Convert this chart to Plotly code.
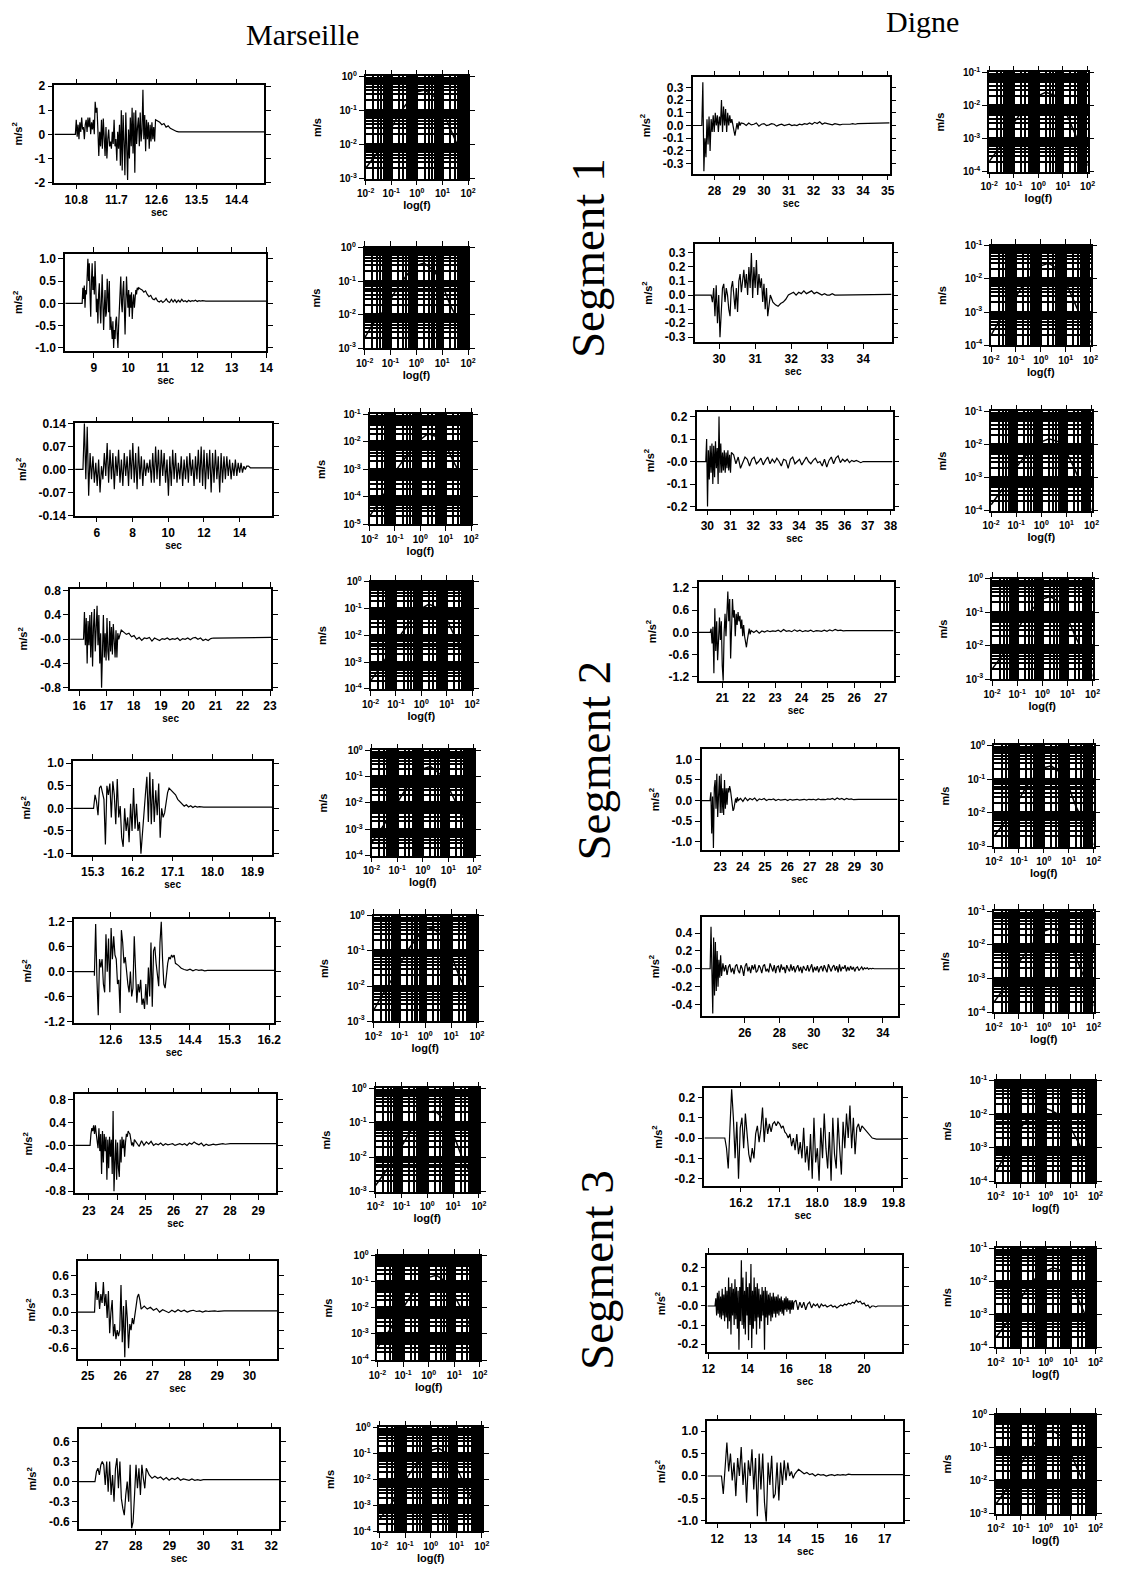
import numpy as np
import plotly.graph_objects as go

W, H = 1127, 1585
OFFX, OFFY = 8, 13  # page body margin compensation (px)

# ======================= DATA =======================
# Each time series: (onset, burst_end, coda_end), burst values, coda values, final level (m/s^2)

# ---------- Marseille ----------
M1_TIMES = (10.78, 12.58, 13.1)
M1_BURST = [0.0, 0.6, -0.1, 0.4, -0.2, 0.5, 0.1, 0.7, 0.2, 0.3,
            -0.2, 0.4, 0.6, 0.1, 0.7, 0.3, 0.7, 0.0, 0.5, 0.2,
            0.6, 0.0, 1.35, 0.9, 1.1, 0.2, -0.9, 0.1, -0.5, 0.6,
            -0.6, 0.65, -0.4, -0.9, 0.3, -1.0, -0.2, 0.2, -0.5, -0.3,
            -0.6, 0.1, -0.4, 0.6, -0.5, -0.2, -1.1, 0.1, -0.6, 0.4,
            -1.3, 1.0, -1.5, 0.8, -0.3, -1.7, 0.9, -1.2, -1.9, 0.2,
            -1.0, 0.7, -0.5, 1.1, -0.8, 0.9, -1.6, 1.0, -0.4, 0.3,
            0.7, -0.5, 0.9, -0.3, 0.2, 1.85, -0.2, 0.8, -0.7, 0.6,
            -0.2, 0.5, -0.6, 0.4, -0.3, 0.5, -0.2, 0.3, -0.3, 0.6]
M1_CODA = [0.55, 0.5, 0.4, 0.45, 0.3, 0.35, 0.25, 0.2, 0.15, 0.12, 0.1]
M1_TAIL = 0.1
M1_XLABELS = ["10.8", "11.7", "12.6", "13.5", "14.4"]
M1_YLABELS = ["2", "1", "0", "-1", "-2"]

M2_TIMES = (8.66, 10.3, 12.3)
M2_BURST = [0.0, 0.35, 0.1, 0.4, -0.1, 0.3,
            0.2, 0.6, 1.0, 0.5, 0.9, 0.2, -0.3, 0.5, 0.9, 0.3,
            0.6, 0.2, 0.95, 0.4, -0.2, 0.1, -0.45, 0.2, 0.45, -0.1,
            -0.45, 0.1, 0.65, 0.0, -0.6, -0.1, 0.3, -0.3, -0.2, 0.55,
            0.1, -0.2, 0.5, -0.6, -0.3, -0.5, -0.8, -0.4, -1.0, -0.6,
            -0.8, -0.4, -0.3, -0.7, -1.0, -0.5, -0.2, 0.1, 0.6, 0.0,
            -0.2, 0.3, 0.5, -0.1, -0.7, 0.0, 0.6, 0.2, -0.1, 0.3,
            -0.3, 0.2, -0.1, 0.25, -0.35, 0.0, 0.2, -0.1, 0.1, 0.3,
            0.2, 0.35, 0.3, 0.35]
M2_CODA = [0.32, 0.3, 0.25, 0.28, 0.2, 0.15, 0.18, 0.1, 0.08, 0.12,
           0.05, 0.03, 0.06, 0.02, 0.05, 0.1, 0.04, 0.02, 0.09, 0.03,
           0.08, 0.02, 0.07, 0.03, 0.09, 0.04, 0.06, 0.03, 0.07, 0.04,
           0.06, 0.05, 0.07, 0.04, 0.06, 0.05, 0.06, 0.05, 0.05, 0.05]
M2_TAIL = 0.05
M2_XLABELS = ["9", "10", "11", "12", "13", "14"]
M2_YLABELS = ["1.0", "0.5", "0.0", "-0.5", "-1.0"]

M3_TIMES = (5.22, 14.4, 14.7)
M3_BURST = [0.0, 0.14, -0.03, 0.13, -0.08, 0.05, -0.03, 0.04, -0.04, 0.02,
            -0.05, 0.03, -0.07, 0.01, -0.03, 0.05, -0.02, 0.08, -0.04, 0.06,
            -0.03, 0.05, -0.06, 0.04, -0.02, 0.06, -0.04, 0.03, -0.05, 0.05,
            -0.02, 0.04, -0.05, 0.06, -0.03, 0.08, -0.04, 0.05, -0.06, 0.07,
            -0.03, 0.04, -0.05, 0.03, -0.02, 0.02, -0.01, 0.03, -0.04, 0.05,
            -0.04, 0.07, -0.03, 0.06, -0.05, 0.06, -0.02, 0.05, -0.04, 0.03,
            -0.08, 0.04, -0.05, 0.06, -0.03, 0.05, -0.04, 0.02, -0.03, 0.04,
            -0.05, 0.03, -0.03, 0.04, -0.04, 0.05, -0.02, 0.03, -0.05, 0.04,
            -0.03, 0.06, -0.04, 0.07, -0.05, 0.06, -0.06, 0.05, -0.03, 0.06,
            -0.07, 0.05, -0.04, 0.06, -0.03, 0.04, -0.07, 0.05, -0.04, 0.04,
            -0.03, 0.04, -0.02, 0.03, -0.03, 0.02, -0.02, 0.03, -0.02, 0.02,
            -0.01, 0.02, -0.01, 0.01, 0.0, 0.01]
M3_CODA = [0.01, 0.005, 0.005]
M3_TAIL = 0.005
M3_XLABELS = ["6", "8", "10", "12", "14"]
M3_YLABELS = ["0.14", "0.07", "0.00", "-0.07", "-0.14"]

M4_TIMES = (16.16, 17.45, 21.2)
M4_BURST = [0.0, 0.45, -0.1, 0.35, -0.4, 0.3, -0.1, 0.4, -0.3, 0.45,
            -0.45, 0.2, 0.5, -0.2, 0.3, 0.55, -0.1, 0.4, -0.4, 0.1,
            -0.8, 0.2, 0.4, -0.3, 0.1, -0.35, 0.35, -0.2, -0.35, 0.3,
            -0.2, 0.2, -0.25, 0.25, -0.1, -0.3, 0.15, -0.3, 0.1, 0.0]
M4_CODA = [0.15, 0.12, 0.08, 0.1, 0.04, 0.06, 0.0, 0.03, -0.02, 0.02,
           0.01, 0.03, -0.03, 0.02, 0.0, -0.02, 0.01, 0.0, 0.02, -0.01,
           0.01, 0.0, 0.02, -0.02, 0.01, 0.0, 0.02, -0.01, 0.02, 0.03,
           0.0, 0.02, -0.02, 0.0, -0.02, 0.01, 0.02, 0.02, 0.03, 0.03]
M4_TAIL = 0.03
M4_XLABELS = ["16", "17", "18", "19", "20", "21", "22", "23"]
M4_YLABELS = ["0.8", "0.4", "-0.0", "-0.4", "-0.8"]

M5_TIMES = (15.32, 17.02, 17.8)
M5_BURST = [0.0, 0.3, 0.15, -0.15, 0.45, 0.5, 0.3, 0.2, -0.8, 0.5,
            0.3, 0.55, -0.2, 0.6, 0.3, -0.35, 0.65, -0.2, 0.05, -0.65,
            -0.85, 0.0, -0.5, -0.2, -0.75, 0.1, -0.5, 0.45, -0.45, 0.1,
            -0.5, -0.3, -1.0, -0.5, -0.1, 0.3, 0.7, -0.3, 0.8, -0.35,
            0.65, -0.3, 0.4, -0.15, 0.55, -0.65, 0.0, -0.2, -0.1, 0.2,
            0.35, 0.45]
M5_CODA = [0.4, 0.35, 0.3, 0.2, 0.15, 0.1, 0.05, 0.08, 0.03, 0.06,
           0.02, 0.05, 0.03, 0.04, 0.03, 0.03]
M5_TAIL = 0.03
M5_XLABELS = ["15.3", "16.2", "17.1", "18.0", "18.9"]
M5_YLABELS = ["1.0", "0.5", "0.0", "-0.5", "-1.0"]

M6_TIMES = (12.23, 14.07, 14.8)
M6_BURST = [-0.1, 1.15, -0.2, -1.05, 0.3, 0.1, 0.3, -0.3, -0.5, 0.9,
            0.0, 0.8, -0.5, 1.05, 0.3, 0.85, 0.4, 0.3, -0.3, -0.2,
            -1.0, 1.0, 0.7, 0.2, 0.35, -0.1, -0.3, -0.5, 0.0, -0.6,
            -0.4, 0.85, -0.2, -0.75, -0.3, -0.5, -0.2, -0.8, -0.65, -0.9,
            -0.3, -0.8, 0.1, -0.6, 0.7, -0.85, 0.5, 0.6, 0.2, -0.1,
            -0.35, 0.7, 1.2, 0.3, -0.3, -0.4, 0.0, 0.2, 0.35, 0.3,
            0.4, 0.35, 0.4, 0.2]
M6_CODA = [0.15, 0.08, 0.05, 0.03, 0.06, 0.02, 0.05, 0.03, 0.04, 0.02, 0.03]
M6_TAIL = 0.03
M6_XLABELS = ["12.6", "13.5", "14.4", "15.3", "16.2"]
M6_YLABELS = ["1.2", "0.6", "0.0", "-0.6", "-1.2"]

M7_TIMES = (23.04, 24.61, 28.0)
M7_BURST = [0.0, 0.2, 0.3, 0.25, 0.35, 0.2, 0.35, 0.2, 0.1, -0.05,
            0.3, -0.1, 0.2, -0.5, 0.25, -0.3, 0.2, -0.1, 0.15, -0.6,
            0.1, -0.4, 0.15, -0.2, 0.1, -0.5, 0.6, -0.8, -0.3, 0.1,
            -0.6, 0.05, -0.4, -0.55, 0.1, -0.3, 0.15, -0.05, 0.1, -0.2,
            0.05, 0.2, 0.15, 0.25, 0.22, 0.2, 0.1, 0.0, 0.05, -0.02,
            0.1]
M7_CODA = [0.05, -0.02, 0.08, 0.0, 0.06, 0.02, 0.07, 0.0, 0.03, 0.01,
           0.04, 0.0, 0.03, 0.01, 0.02, 0.03, 0.0, 0.02, 0.03, 0.01,
           0.03, 0.0, 0.04, 0.02, 0.06, 0.03, 0.01, 0.04, -0.01, 0.02,
           0.0, 0.01, 0.02, 0.01, 0.02, 0.02, 0.03, 0.02, 0.03, 0.03]
M7_TAIL = 0.03
M7_XLABELS = ["23", "24", "25", "26", "27", "28", "29"]
M7_YLABELS = ["0.8", "0.4", "-0.0", "-0.4", "-0.8"]

M8_TIMES = (25.21, 26.65, 29.5)
M8_BURST = [0.0, 0.5, 0.2, 0.35, 0.05, 0.3, 0.15, 0.5, 0.1, 0.3,
            -0.1, 0.35, -0.35, 0.0, 0.2, -0.4, -0.2, -0.45, -0.3, -0.4,
            -0.3, 0.45, -0.5, 0.1, -0.75, 0.2, -0.1, -0.6, -0.2, -0.3,
            -0.1, -0.2, 0.0, 0.1, 0.25, 0.3, 0.2, 0.05]
M8_CODA = [0.1, 0.05, 0.08, 0.03, 0.06, 0.0, 0.04, 0.02, -0.01, 0.03,
           0.0, 0.04, 0.01, 0.03, 0.0, 0.02, 0.03, 0.01, 0.02, 0.0,
           0.02, 0.01, 0.02, 0.02, 0.01, 0.02, 0.02, 0.02, 0.02, 0.02]
M8_TAIL = 0.02
M8_XLABELS = ["25", "26", "27", "28", "29", "30"]
M8_YLABELS = ["0.6", "0.3", "0.0", "-0.3", "-0.6"]

M9_TIMES = (26.8, 28.4, 30.5)
M9_BURST = [0.0, 0.15, 0.2, 0.1, 0.25, 0.3, 0.25, -0.05, 0.3, -0.15,
            0.3, -0.2, 0.1, -0.3, 0.2, 0.35, -0.1, 0.3, -0.25, -0.4,
            -0.5, -0.2, 0.0, -0.3, 0.25, -0.7, -0.6, -0.2, 0.25, -0.1,
            0.2, -0.2, 0.25, 0.05, -0.1, 0.2, 0.15, 0.1]
M9_CODA = [0.05, 0.08, 0.05, 0.07, 0.03, 0.06, 0.02, 0.05, 0.03, 0.06,
           0.02, 0.04, 0.03, 0.02, 0.04, 0.02, 0.03, 0.02, 0.03, 0.03,
           0.02, 0.03, 0.03, 0.03, 0.03]
M9_TAIL = 0.03
M9_XLABELS = ["27", "28", "29", "30", "31", "32"]
M9_YLABELS = ["0.6", "0.3", "0.0", "-0.3", "-0.6"]

# ---------- Digne ----------
D1_TIMES = (27.49, 29.08, 34.2)
D1_BURST = [0.0, 0.34, -0.36, -0.1, -0.25, 0.05, -0.15, 0.07, -0.2, 0.05,
            -0.05, 0.08, -0.05, 0.1, 0.0, 0.08, -0.05, 0.07, 0.0, 0.2,
            -0.05, 0.15, 0.0, 0.13, -0.05, 0.1, 0.0, 0.08, 0.02, 0.05,
            -0.02, -0.04, -0.08, -0.02, 0.02, -0.03, 0.03, 0.0, 0.02]
D1_CODA = [0.015, 0.0, 0.02, 0.005, 0.01, 0.02, -0.005, 0.01, 0.015, 0.0,
           0.005, 0.015, 0.01, -0.005, 0.005, 0.01, 0.0, 0.005, 0.01, 0.0,
           0.005, 0.0, 0.01, 0.005, 0.015, 0.01, 0.02, 0.01, 0.025, 0.015,
           0.03, 0.01, 0.02, 0.015, 0.01, 0.005, 0.015, 0.01, 0.005, 0.01,
           0.01, 0.005, 0.01, 0.015, 0.01, 0.015, 0.015, 0.02, 0.015, 0.02]
D1_TAIL = 0.02
D1_XLABELS = ["28", "29", "30", "31", "32", "33", "34", "35"]
D1_YLABELS = ["0.3", "0.2", "0.1", "0.0", "-0.1", "-0.2", "-0.3"]

D2_TIMES = (29.78, 31.35, 33.5)
D2_BURST = [0.0, -0.05, 0.05, -0.15, 0.07, -0.2, 0.0, -0.3, -0.1, 0.05,
            0.08, -0.05, 0.05, 0.0, -0.1, -0.15, 0.05, 0.1, 0.0, -0.1,
            0.05, -0.12, 0.1, 0.15, 0.02, 0.1, 0.18, 0.05, 0.15, 0.0,
            0.2, 0.05, 0.3, -0.02, 0.2, 0.05, 0.25, 0.0, 0.15, 0.05,
            0.12, -0.05, 0.08, -0.1, 0.05, -0.15]
D2_CODA = [0.0, -0.05, -0.07, -0.08, -0.06, -0.05, -0.03, 0.0, 0.01, 0.02,
           0.0, 0.02, 0.01, 0.03, 0.01, 0.02, 0.03, 0.01, 0.02, 0.01,
           0.0, 0.01, 0.0, 0.0, 0.01, 0.0, 0.0, 0.0, 0.005, 0.005]
D2_TAIL = 0.005
D2_XLABELS = ["30", "31", "32", "33", "34"]
D2_YLABELS = ["0.3", "0.2", "0.1", "0.0", "-0.1", "-0.2", "-0.3"]

D3_TIMES = (29.93, 31.05, 37.0)
D3_BURST = [0.0, 0.1, -0.2, 0.05, -0.08, 0.07, -0.05, 0.08, -0.1, 0.07,
            -0.07, 0.09, -0.03, 0.06, -0.1, 0.2, -0.05, 0.08, -0.05, 0.04,
            -0.04, 0.05, -0.05, 0.04, -0.03, 0.05, -0.04, 0.03, -0.05, 0.04]
D3_CODA = [0.03, -0.01, 0.02, -0.03, 0.0, 0.02, 0.01, -0.02, 0.01, 0.02,
           -0.01, 0.0, 0.015, -0.015, 0.005, 0.02, -0.01, 0.01, -0.005, 0.015,
           0.0, -0.02, 0.01, 0.005, -0.03, 0.01, 0.02, -0.01, 0.0, 0.01,
           -0.015, 0.005, 0.02, 0.0, -0.01, 0.005, 0.015, -0.005, 0.0, -0.02,
           0.01, -0.025, 0.005, 0.02, -0.01, 0.015, 0.025, -0.005, 0.01, 0.0,
           0.01, -0.005, 0.005, 0.0, 0.005, 0.0, -0.005, 0.0, 0.0, 0.0]
D3_TAIL = 0.0
D3_XLABELS = ["30", "31", "32", "33", "34", "35", "36", "37", "38"]
D3_YLABELS = ["0.2", "0.1", "-0.0", "-0.1", "-0.2"]

D4_TIMES = (20.54, 22.09, 26.2)
D4_BURST = [0.0, 0.1, -0.3, 0.15, -1.1, 0.65, -0.5, 0.3, -0.75, -0.2,
            0.4, -0.2, 0.3, -0.9, -1.3, 0.0, 0.5, -0.1, 0.7, 1.1,
            0.3, 0.9, -0.7, 0.2, 0.9, 0.4, 0.6, -0.1, 0.5, 0.2,
            0.55, 0.3, 0.45, 0.1, 0.35, -0.1, 0.2, -0.1, -0.3, -0.4,
            -0.2, 0.0, 0.1, -0.05, 0.05]
D4_CODA = [0.0, 0.05, -0.02, 0.04, 0.01, 0.05, 0.02, 0.04, 0.03, 0.06,
           0.02, 0.08, 0.03, 0.05, 0.02, 0.07, 0.03, 0.06, 0.02, 0.05,
           0.03, 0.06, 0.02, 0.05, 0.04, 0.03, 0.06, 0.03, 0.07, 0.04,
           0.08, 0.05, 0.06, 0.04, 0.05, 0.04, 0.05, 0.05, 0.05, 0.05]
D4_TAIL = 0.05
D4_XLABELS = ["21", "22", "23", "24", "25", "26", "27"]
D4_YLABELS = ["1.2", "0.6", "0.0", "-0.6", "-1.2"]

D5_TIMES = (22.54, 23.8, 29.6)
D5_BURST = [0.0, 0.2, -0.8, 0.1, -1.15, 0.3, 0.5, -0.2, 0.65, -0.4,
            0.2, 0.6, -0.3, 0.65, -0.3, 0.3, -0.35, 0.5, -0.2, 0.3,
            -0.1, 0.3, 0.2, 0.35, 0.25, 0.1, -0.1, -0.25, -0.2, -0.1,
            0.05, -0.05, 0.08, 0.0]
D5_CODA = [0.05, -0.02, 0.07, 0.0, 0.05, 0.02, 0.06, -0.01, 0.04, 0.02,
           0.05, 0.0, 0.03, 0.02, 0.04, 0.0, 0.03, 0.01, 0.02, 0.03,
           0.0, 0.03, 0.01, 0.02, 0.03, 0.01, 0.02, 0.03, 0.01, 0.03,
           0.02, 0.03, 0.01, 0.04, 0.02, 0.03, 0.02, 0.04, 0.03, 0.05,
           0.02, 0.06, 0.03, 0.05, 0.02, 0.05, 0.03, 0.04, 0.02, 0.03,
           0.03, 0.03, 0.03, 0.03, 0.03]
D5_TAIL = 0.03
D5_XLABELS = ["23", "24", "25", "26", "27", "28", "29", "30"]
D5_YLABELS = ["1.0", "0.5", "0.0", "-0.5", "-1.0"]

D6_TIMES = (23.99, 24.65, 33.5)
D6_BURST = [0.0, 0.47, -0.1, -0.5, 0.35, -0.3, 0.3, -0.25, 0.2, -0.2,
            0.1, -0.1, 0.15, -0.08]
D6_CODA = [0.06, -0.03, 0.04, -0.07, 0.02, 0.05, -0.04, 0.01, -0.06, 0.03,
           0.05, -0.02, -0.05, 0.04, 0.0, -0.08, 0.03, 0.06, -0.03, 0.02,
           -0.05, 0.04, -0.01, 0.05, -0.04, -0.02, 0.04, 0.01, -0.05, 0.03,
           0.05, -0.03, 0.0, -0.04, 0.06, 0.01, -0.03, 0.04, -0.05, 0.02,
           0.03, -0.04, 0.05, -0.01, 0.02, -0.05, 0.04, 0.0, -0.03, 0.05,
           -0.02, 0.03, -0.04, 0.01, 0.04, -0.03, 0.02, -0.05, 0.03, 0.0,
           -0.02, 0.04, -0.03, 0.01, 0.05, -0.04, 0.02, -0.02, 0.03, -0.04,
           0.01, 0.03, -0.03, 0.04, -0.01, -0.04, 0.05, 0.0, -0.03, 0.02,
           0.04, -0.02, 0.03, -0.04, 0.05, -0.03, 0.02, 0.0, 0.04, -0.03,
           0.02, -0.02, 0.03, -0.01, 0.02, -0.03, 0.01, 0.02, -0.02, 0.0,
           0.02, -0.01, 0.01, 0.0, 0.01, -0.005, 0.005, 0.0, 0.005, 0.0]
D6_TAIL = 0.0
D6_XLABELS = ["26", "28", "30", "32", "34"]
D6_YLABELS = ["0.4", "0.2", "-0.0", "-0.2", "-0.4"]

D7_TIMES = (15.82, 19.3, 19.4)
D7_BURST = [0.0, -0.05, -0.15, 0.05, 0.24, 0.1, -0.1,
            0.08, -0.2, 0.05, 0.1, -0.05, 0.12, 0.02, -0.08, -0.12, -0.05,
            -0.1, 0.02, 0.06, -0.02, 0.04, 0.15, -0.02, 0.1, 0.02, 0.07,
            0.03, 0.07, 0.08, 0.06, 0.08, 0.07, 0.05, 0.06, 0.03, 0.02,
            0.0, 0.02, -0.04, 0.0, -0.06, 0.02, -0.08, -0.02, -0.1, 0.05,
            -0.12, -0.04, -0.16, 0.02, -0.2, 0.1, -0.12, -0.05, -0.21, 0.05,
            -0.1, 0.12, -0.05, -0.15, 0.03, -0.21, 0.1, -0.08, -0.15, 0.1,
            -0.05, -0.18, 0.08, -0.05, 0.12, 0.0, 0.16, -0.05, 0.1, -0.08,
            0.05, 0.07, 0.03, 0.06, 0.05, 0.04, 0.03, 0.02, 0.01, 0.0]
D7_CODA = [-0.005]
D7_TAIL = -0.005
D7_XLABELS = ["16.2", "17.1", "18.0", "18.9", "19.8"]
D7_YLABELS = ["0.2", "0.1", "-0.0", "-0.1", "-0.2"]

D8_TIMES = (12.34, 16.4, 20.8)
D8_BURST = [0.0, 0.04, -0.05, 0.07, -0.04, 0.08, -0.06, 0.05, -0.07, 0.09,
            -0.05, 0.06, -0.08, 0.1, -0.06, 0.08,
            -0.12, 0.15, -0.08, 0.1, -0.15, 0.12, -0.05, 0.09, -0.1, 0.14,
            -0.07, 0.1, -0.12, 0.08, -0.23,
            0.1, -0.08, 0.24, -0.1, 0.15, -0.12, 0.08, -0.15, 0.18, -0.05,
            0.1, -0.18, 0.12, -0.1, 0.22,
            -0.22, 0.08, -0.12, 0.15, -0.08, 0.1, -0.15, 0.12, -0.06, 0.09,
            -0.12, 0.06, -0.08, 0.1, -0.05,
            0.08, -0.23, 0.1, -0.06, 0.08, -0.1, 0.06, -0.05, 0.07, -0.08,
            0.05, -0.06, 0.07, -0.04, 0.05,
            -0.06, 0.05, -0.04, 0.06, -0.05, 0.04, -0.03, 0.05, -0.04, 0.03,
            -0.05, 0.04, -0.02, 0.05, -0.03, 0.04, -0.02, 0.03, -0.04, 0.03,
            -0.02, 0.03, -0.02, 0.02]
D8_CODA = [0.03, -0.02, 0.02, -0.01, 0.02, -0.02, 0.01, 0.02, -0.01, 0.01,
           0.0, 0.01, -0.01, 0.01, 0.0, 0.005, -0.005, 0.0, 0.005, -0.005,
           0.0, -0.01, 0.0, 0.005, 0.0, 0.01, 0.005, 0.015, 0.01, 0.02,
           0.015, 0.03, 0.02, 0.025, 0.01, 0.015, 0.0, 0.005, -0.01, 0.0,
           0.0, -0.005, 0.0, 0.0]
D8_TAIL = 0.0
D8_XLABELS = ["12", "14", "16", "18", "20"]
D8_YLABELS = ["0.2", "0.1", "-0.0", "-0.1", "-0.2"]

D9_TIMES = (12.13, 14.43, 16.5)
D9_BURST = [0.0, -0.4, 0.3, 0.75, 0.1, 0.5, -0.1, 0.3, -0.45, 0.4,
            0.0, 0.65, -0.2, 0.3, -0.6, 0.35, 0.0, 0.6, -0.3, 0.4,
            -0.9, 0.5, -0.3, 0.5, -0.6, -1.05, 0.3, -0.2, 0.45, -0.5,
            -0.4, 0.3, -0.55, 0.3, -0.2, 0.35, -0.1, 0.3, 0.0, 0.1,
            -0.05, 0.05, 0.1, 0.15]
D9_CODA = [0.1, 0.05, 0.08, 0.03, 0.05, 0.0, 0.04, 0.02, 0.03, 0.0,
           0.02, 0.03, 0.01, 0.03, 0.02, 0.03, 0.02, 0.04, 0.03, 0.03,
           0.02, 0.03, 0.03, 0.03, 0.03]
D9_TAIL = 0.03
D9_XLABELS = ["12", "13", "14", "15", "16", "17"]
D9_YLABELS = ["1.0", "0.5", "0.0", "-0.5", "-1.0"]

# ---------- Spectra (m/s) ----------
SPEC_F = [0.01, 0.02, 0.05, 0.1, 0.2, 0.5, 1, 2, 5, 10, 20, 50, 100]
M1_SPEC = [0.002, 0.004, 0.01, 0.03, 0.08, 0.2, 0.35, 0.4, 0.25, 0.1, 0.03, 0.006, 0.0015]
M2_SPEC = [0.002, 0.005, 0.012, 0.03, 0.07, 0.18, 0.3, 0.35, 0.2, 0.08, 0.02, 0.005, 0.0012]
M3_SPEC = [0.00002, 0.00005, 0.0002, 0.0008, 0.002, 0.006, 0.012, 0.02, 0.015, 0.008, 0.002, 0.0004, 0.00005]
M4_SPEC = [0.0002, 0.0005, 0.002, 0.006, 0.015, 0.05, 0.1, 0.15, 0.1, 0.04, 0.01, 0.002, 0.0003]
M5_SPEC = [0.0003, 0.0008, 0.003, 0.01, 0.03, 0.1, 0.2, 0.25, 0.12, 0.04, 0.01, 0.002, 0.0004]
M6_SPEC = [0.002, 0.005, 0.015, 0.04, 0.1, 0.25, 0.4, 0.45, 0.25, 0.08, 0.02, 0.005, 0.0015]
M7_SPEC = [0.0015, 0.003, 0.008, 0.02, 0.05, 0.12, 0.2, 0.22, 0.12, 0.05, 0.012, 0.003, 0.0012]
M8_SPEC = [0.0003, 0.0008, 0.003, 0.01, 0.03, 0.08, 0.15, 0.18, 0.1, 0.03, 0.008, 0.0015, 0.0003]
M9_SPEC = [0.0003, 0.0007, 0.0025, 0.009, 0.025, 0.07, 0.13, 0.16, 0.09, 0.03, 0.007, 0.0012, 0.0002]
D1_SPEC = [0.0002, 0.0004, 0.001, 0.003, 0.006, 0.012, 0.02, 0.025, 0.02, 0.01, 0.003, 0.0006, 0.00015]
D2_SPEC = [0.0002, 0.0005, 0.0012, 0.003, 0.007, 0.015, 0.025, 0.03, 0.02, 0.008, 0.0025, 0.0005, 0.00012]
D3_SPEC = [0.00015, 0.0003, 0.0008, 0.002, 0.004, 0.008, 0.012, 0.015, 0.012, 0.006, 0.002, 0.0004, 0.0001]
D4_SPEC = [0.002, 0.004, 0.01, 0.03, 0.07, 0.15, 0.25, 0.3, 0.2, 0.07, 0.02, 0.005, 0.0012]
D5_SPEC = [0.002, 0.004, 0.01, 0.025, 0.06, 0.14, 0.22, 0.25, 0.15, 0.06, 0.015, 0.004, 0.0011]
D6_SPEC = [0.0002, 0.0004, 0.001, 0.003, 0.006, 0.015, 0.025, 0.03, 0.025, 0.012, 0.004, 0.0008, 0.00015]
D7_SPEC = [0.0002, 0.0005, 0.0015, 0.004, 0.008, 0.012, 0.015, 0.012, 0.008, 0.004, 0.0015, 0.0004, 0.00012]
D8_SPEC = [0.0002, 0.0004, 0.001, 0.003, 0.007, 0.015, 0.02, 0.025, 0.02, 0.01, 0.003, 0.0006, 0.00015]
D9_SPEC = [0.002, 0.004, 0.012, 0.03, 0.08, 0.18, 0.3, 0.32, 0.2, 0.07, 0.02, 0.005, 0.0012]

# decade range (log10) of each spectrum's m/s axis
M_SPEC_DECADES = [(-3, 0), (-3, 0), (-5, -1), (-4, 0), (-4, 0), (-3, 0), (-3, 0), (-4, 0), (-4, 0)]
D_SPEC_DECADES = [(-4, -1), (-4, -1), (-4, -1), (-3, 0), (-3, 0), (-4, -1), (-4, -1), (-4, -1), (-3, 0)]

STATIONS = ["Marseille", "Digne"]
SEGMENTS = ["Segment 1", "Segment 2", "Segment 3"]

# ======================= LAYOUT (pixels) =======================
M_TS = [
    ((46, 84, 259, 182), (10.31, 15.02), (-2.0, 2.03)),
    ((57, 254, 261, 352), (8.17, 14.0), (-1.07, 1.11)),
    ((67, 425, 267, 518), (4.78, 15.82), (-0.14, 0.14)),
    ((62, 592, 266, 693), (15.67, 23.04), (-0.82, 0.83)),
    ((65, 766, 267, 860), (14.86, 19.34), (-1.02, 1.04)),
    ((66, 925, 269, 1030), (11.77, 16.31), (-1.24, 1.27)),
    ((67, 1102, 271, 1202), (22.51, 29.63), (-0.84, 0.89)),
    ((70, 1270, 272, 1369), (24.7, 30.85), (-0.78, 0.85)),
    ((71, 1440, 274, 1540), (26.33, 32.23), (-0.70, 0.78)),
]
D_TS = [
    ((694, 76, 894, 173), (27.12, 35.08), (-0.378, 0.378)),
    ((696, 244, 896, 343), (29.32, 34.79), (-0.335, 0.364)),
    ((698, 414, 897, 511), (29.53, 38.09), (-0.209, 0.218)),
    ((700, 585, 898, 685), (20.1, 27.49), (-1.31, 1.36)),
    ((703, 754, 902, 855), (22.16, 30.93), (-1.19, 1.24)),
    ((703, 923, 903, 1023), (23.49, 34.91), (-0.53, 0.58)),
    ((706, 1096, 906, 1194), (15.34, 19.99), (-0.234, 0.244)),
    ((709, 1264, 907, 1362), (11.95, 21.97), (-0.242, 0.268)),
    ((709, 1432, 908, 1533), (11.71, 17.56), (-1.02, 1.22)),
]
M_SP_BOX = [(362, 75, 466, 178), (361, 248, 466, 349), (366, 416, 469, 527),
            (367, 585, 470, 693), (368, 755, 472, 861), (370, 922, 475, 1028),
            (372, 1096, 477, 1200), (374, 1265, 478, 1370), (376, 1438, 480, 1543)]
D_SP_BOX = [(995, 71, 1095, 171), (997, 246, 1098, 346), (997, 413, 1099, 513),
            (998, 582, 1100, 683), (1000, 750, 1101, 852), (1000, 917, 1101, 1019),
            (1002, 1088, 1103, 1190), (1002, 1257, 1103, 1357), (1002, 1425, 1103, 1525)]

M_DATA = [
    (M1_TIMES, M1_BURST, M1_CODA, M1_TAIL, M1_XLABELS, M1_YLABELS, M1_SPEC),
    (M2_TIMES, M2_BURST, M2_CODA, M2_TAIL, M2_XLABELS, M2_YLABELS, M2_SPEC),
    (M3_TIMES, M3_BURST, M3_CODA, M3_TAIL, M3_XLABELS, M3_YLABELS, M3_SPEC),
    (M4_TIMES, M4_BURST, M4_CODA, M4_TAIL, M4_XLABELS, M4_YLABELS, M4_SPEC),
    (M5_TIMES, M5_BURST, M5_CODA, M5_TAIL, M5_XLABELS, M5_YLABELS, M5_SPEC),
    (M6_TIMES, M6_BURST, M6_CODA, M6_TAIL, M6_XLABELS, M6_YLABELS, M6_SPEC),
    (M7_TIMES, M7_BURST, M7_CODA, M7_TAIL, M7_XLABELS, M7_YLABELS, M7_SPEC),
    (M8_TIMES, M8_BURST, M8_CODA, M8_TAIL, M8_XLABELS, M8_YLABELS, M8_SPEC),
    (M9_TIMES, M9_BURST, M9_CODA, M9_TAIL, M9_XLABELS, M9_YLABELS, M9_SPEC),
]
D_DATA = [
    (D1_TIMES, D1_BURST, D1_CODA, D1_TAIL, D1_XLABELS, D1_YLABELS, D1_SPEC),
    (D2_TIMES, D2_BURST, D2_CODA, D2_TAIL, D2_XLABELS, D2_YLABELS, D2_SPEC),
    (D3_TIMES, D3_BURST, D3_CODA, D3_TAIL, D3_XLABELS, D3_YLABELS, D3_SPEC),
    (D4_TIMES, D4_BURST, D4_CODA, D4_TAIL, D4_XLABELS, D4_YLABELS, D4_SPEC),
    (D5_TIMES, D5_BURST, D5_CODA, D5_TAIL, D5_XLABELS, D5_YLABELS, D5_SPEC),
    (D6_TIMES, D6_BURST, D6_CODA, D6_TAIL, D6_XLABELS, D6_YLABELS, D6_SPEC),
    (D7_TIMES, D7_BURST, D7_CODA, D7_TAIL, D7_XLABELS, D7_YLABELS, D7_SPEC),
    (D8_TIMES, D8_BURST, D8_CODA, D8_TAIL, D8_XLABELS, D8_YLABELS, D8_SPEC),
    (D9_TIMES, D9_BURST, D9_CODA, D9_TAIL, D9_XLABELS, D9_YLABELS, D9_SPEC),
]

# ======================= STYLE =======================
SANS = "Liberation Sans"
TICKFONT = dict(family=SANS, size=12, color="black", weight="bold")
SPTICKFONT = dict(family=SANS, size=10, color="black", weight="bold")
TITLEFONT = dict(family=SANS, size=11, color="black", weight="bold")
XTITLEFONT = dict(family=SANS, size=10, color="black", weight="bold")


def dom(box):
    l, t, r, b = box
    l, r = l - OFFX, r - OFFX
    t, b = t - OFFY, b - OFFY
    return [l / W, r / W], [1 - b / H, 1 - t / H]


fig = go.Figure()
layout = {}
k = [0]


def axname(n):
    return ("xaxis", "yaxis", "x", "y") if n == 1 else (f"xaxis{n}", f"yaxis{n}", f"x{n}", f"y{n}")


def add_ts(box, xr, yr, times, burst, coda, tail, xlabels, ylabels):
    k[0] += 1
    xa, ya, xr_id, yr_id = axname(k[0])
    onset, bend, cend = times
    bx = list(np.linspace(onset, bend, len(burst)))
    cx = list(np.linspace(bend, cend, len(coda) + 1)[1:])
    x = [xr[0], onset] + bx + cx + [xr[1]]
    y = [0.0, 0.0] + list(burst) + list(coda) + [tail]
    fig.add_trace(go.Scatter(x=x, y=y, mode="lines", xaxis=xr_id, yaxis=yr_id,
                             line=dict(color="black", width=1.2), hoverinfo="skip"))
    dx, dy = dom(box)
    common = dict(showline=True, linewidth=1.7, linecolor="black", mirror="ticks",
                  ticks="outside", ticklen=5, tickwidth=1.4, tickcolor="black",
                  showgrid=False, zeroline=False, tickmode="array")
    layout[xa] = dict(domain=dx, range=list(xr), anchor=yr_id,
                      tickvals=[float(s) for s in xlabels], ticktext=xlabels,
                      tickfont=TICKFONT,
                      title=dict(text="sec", font=XTITLEFONT, standoff=3), **common)
    layout[ya] = dict(domain=dy, range=list(yr), anchor=xr_id,
                      tickvals=[float(s) for s in ylabels], ticktext=ylabels,
                      tickfont=TICKFONT,
                      title=dict(text="m/s<sup>2</sup>", font=TITLEFONT, standoff=10), **common)


def add_spec(box, dec, spec):
    k[0] += 1
    xa, ya, xr_id, yr_id = axname(k[0])
    fig.add_trace(go.Scatter(x=SPEC_F, y=spec, mode="lines", xaxis=xr_id, yaxis=yr_id,
                             line=dict(color="black", width=1.5), hoverinfo="skip"))
    dx, dy = dom(box)
    lo, hi = dec
    ydec = list(range(lo, hi + 1))
    xdec = list(range(-2, 3))
    yminor = [m * 10.0 ** d for d in range(lo, hi) for m in range(2, 10)]
    xminor = [m * 10.0 ** d for d in range(-2, 2) for m in range(2, 10)]
    common = dict(type="log", showline=True, linewidth=1.7, linecolor="black", mirror="ticks",
                  ticks="outside", ticklen=5, tickwidth=1.4, tickcolor="black",
                  showgrid=True, gridcolor="black", gridwidth=2.6, zeroline=False,
                  tickmode="array", tickfont=SPTICKFONT)
    layout[xa] = dict(domain=dx, range=[-2, 2], anchor=yr_id,
                      tickvals=[10.0 ** d for d in xdec],
                      ticktext=[f"10<sup>{d}</sup>" for d in xdec],
                      minor=dict(tickmode="array", tickvals=xminor, showgrid=True,
                                 gridcolor="black", gridwidth=2.1, ticks=""),
                      title=dict(text="log(f)", font=TITLEFONT, standoff=2), **common)
    layout[ya] = dict(domain=dy, range=[lo, hi], anchor=xr_id,
                      tickvals=[10.0 ** d for d in ydec],
                      ticktext=[f"10<sup>{d}</sup>" for d in ydec],
                      minor=dict(tickmode="array", tickvals=yminor, showgrid=True,
                                 gridcolor="black", gridwidth=2.1, ticks=""),
                      title=dict(text="m/s", font=TITLEFONT, standoff=16), **common)


for i in range(9):
    times, burst, coda, tail, xl, yl, spec = M_DATA[i]
    box, xr, yr = M_TS[i]
    add_ts(box, xr, yr, times, burst, coda, tail, xl, yl)
    add_spec(M_SP_BOX[i], M_SPEC_DECADES[i], spec)
for i in range(9):
    times, burst, coda, tail, xl, yl, spec = D_DATA[i]
    box, xr, yr = D_TS[i]
    add_ts(box, xr, yr, times, burst, coda, tail, xl, yl)
    add_spec(D_SP_BOX[i], D_SPEC_DECADES[i], spec)


def pt(x, y):
    return (x - OFFX) / W, 1 - (y - OFFY) / H


SERIF = "Liberation Serif"
annotations = []
for name, (cx, cy) in zip(STATIONS, [(298, 33), (927, 20)]):
    px, py = pt(cx, cy)
    annotations.append(dict(text=name, x=px, y=py, xref="paper", yref="paper",
                            xanchor="center", yanchor="middle", showarrow=False,
                            font=dict(family=SERIF, size=30, color="black")))
for name, (cx, cy) in zip(SEGMENTS, [(588, 258), (594, 765), (597, 1279)]):
    px, py = pt(cx, cy)
    annotations.append(dict(text=name, x=px, y=py, xref="paper", yref="paper",
                            xanchor="center", yanchor="middle", showarrow=False,
                            textangle=-90,
                            font=dict(family=SERIF, size=47, color="black")))

fig.update_layout(width=W, height=H, margin=dict(l=0, r=0, t=0, b=0),
                  paper_bgcolor="white", plot_bgcolor="white", showlegend=False,
                  annotations=annotations, **layout)
fig.write_html("out.html")
